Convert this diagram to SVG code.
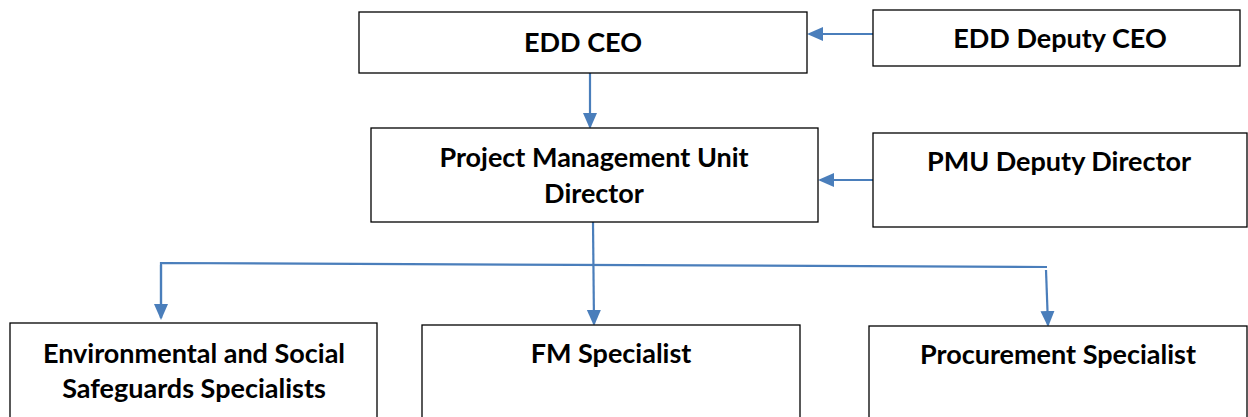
<svg xmlns="http://www.w3.org/2000/svg" width="1248" height="417" viewBox="0 0 1248 417">
<style>
.box{fill:#fff;stroke:#000;stroke-width:1.3}
.t{font-family:Lato,"Open Sans","Liberation Sans",sans-serif;font-weight:bold;font-size:27px;fill:#000;text-anchor:middle}
.c{fill:none;stroke:#4a7ebb;stroke-width:2.2}
</style>
<defs>
<marker id="ahb" markerWidth="16" markerHeight="16" refX="14" refY="8" orient="auto" markerUnits="userSpaceOnUse" viewBox="0 0 16 16">
<path d="M0,1 L16,8 L0,15 Z" fill="#4a7ebb"/>
</marker>
</defs>
<rect width="1248" height="417" fill="#fff"/>
<g id="connectors">
<line class="c" x1="873" y1="34" x2="809" y2="34" marker-end="url(#ahb)"/>
<line class="c" x1="590" y1="73" x2="590" y2="127" marker-end="url(#ahb)"/>
<line class="c" x1="873" y1="180" x2="820" y2="180" marker-end="url(#ahb)"/>
<line class="c" x1="593" y1="222" x2="594" y2="324" marker-end="url(#ahb)"/>
<polyline class="c" points="161,318 161,263 1047,267"/>
<line class="c" x1="161" y1="265" x2="161" y2="318" marker-end="url(#ahb)"/>
<line class="c" x1="1046" y1="270" x2="1048" y2="325" marker-end="url(#ahb)"/>
</g>
<g id="edd-ceo">
<rect class="box" x="359" y="12" width="448" height="61"/>
<text class="t" x="583" y="52">EDD CEO</text>
</g>
<g id="edd-deputy-ceo">
<rect class="box" x="873" y="10" width="367" height="56"/>
<text class="t" x="1060" y="48">EDD Deputy CEO</text>
</g>
<g id="pmu-director">
<rect class="box" x="371" y="128" width="447" height="94"/>
<text class="t" x="594" y="167">Project Management Unit</text>
<text class="t" x="594" y="203">Director</text>
</g>
<g id="pmu-deputy-director">
<rect class="box" x="873" y="133" width="374" height="94"/>
<text class="t" x="1059" y="171">PMU Deputy Director</text>
</g>
<g id="env-social">
<rect class="box" x="10" y="323" width="367" height="100"/>
<text class="t" x="194" y="363">Environmental and Social</text>
<text class="t" x="194" y="398">Safeguards Specialists</text>
</g>
<g id="fm-specialist">
<rect class="box" x="422" y="325" width="378" height="100"/>
<text class="t" x="611" y="363">FM Specialist</text>
</g>
<g id="procurement-specialist">
<rect class="box" x="869" y="326" width="378" height="100"/>
<text class="t" x="1058" y="364">Procurement Specialist</text>
</g>
</svg>
